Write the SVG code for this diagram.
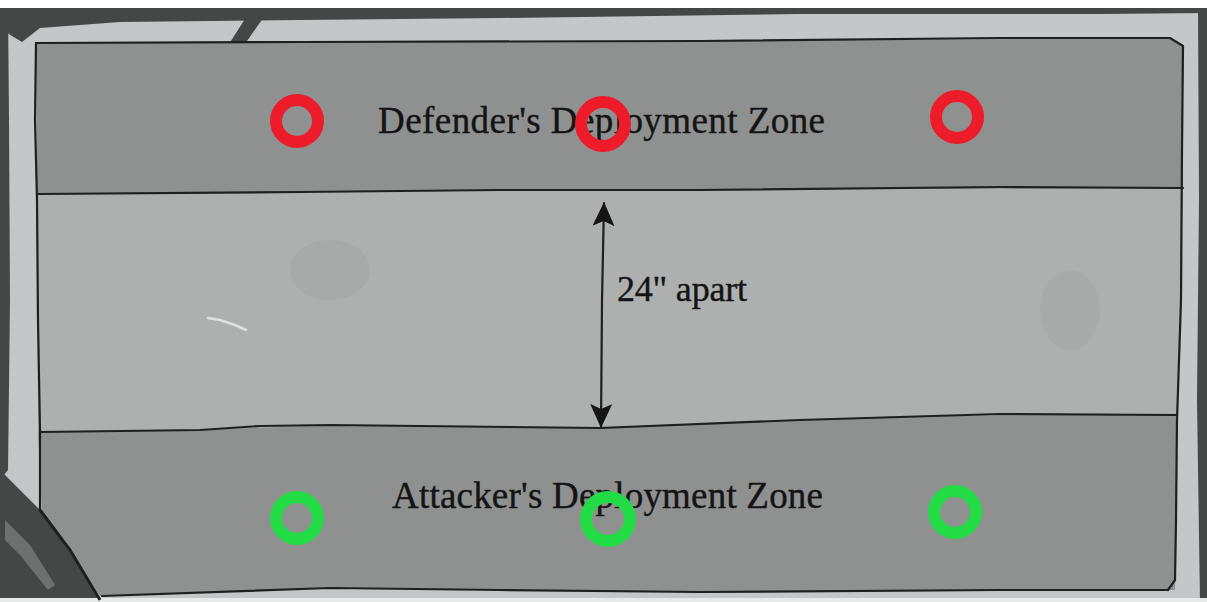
<svg xmlns="http://www.w3.org/2000/svg" width="1207" height="602" viewBox="0 0 1207 602">
<defs>
<style>
.paper{fill:#c3c7c7}
.zone-dark{fill:#8f9191}
.zone-mid{fill:#aeb0b0}
.ink{fill:none;stroke:#1e1f1f;stroke-width:2.2;stroke-linecap:round;stroke-linejoin:round}
.label{font-family:"Liberation Serif","DejaVu Serif",serif;fill:#141414;stroke:#141414;stroke-width:0.4}
.red{fill:none;stroke:#ec1c2b;stroke-width:12}
.green{fill:none;stroke:#23dc45;stroke-width:12}
.shade{fill:#454747}
</style>
<marker id="head" viewBox="0 0 24 22" refX="23" refY="11" markerWidth="24" markerHeight="22" markerUnits="userSpaceOnUse" orient="auto-start-reverse">
<path d="M0,0 L24,11 L0,22 L5,11 Z" fill="#151515"/>
</marker>
</defs>

<g id="background">
<rect x="0" y="0" width="1207" height="602" class="paper"/>
<rect x="0" y="0" width="1207" height="8" fill="#ffffff"/>
<path class="shade" d="M0,8 L1207,8 L1207,13 L1100,14 L800,14 L500,18 L300,20 L120,22 L40,28 L22,42 L12,36 L0,28 Z"/>
<path class="shade" d="M0,8 L8,8 L9,120 L10,300 L8,470 L0,480 Z"/>
<path class="shade" d="M1198,8 L1207,8 L1207,602 L1200,602 L1197,400 L1199,200 Z"/>
<path class="shade" d="M220,58 L230,65 L266,14 L252,8 Z"/>
<path class="shade" d="M0,470 L30,500 L42,512 L70,550 L100,602 L0,602 Z"/>
<path d="M5,520 L30,545 L55,585 L48,590 L20,555 L5,540 Z" fill="#8a8c8c" opacity="0.6"/>
<rect x="0" y="598" width="1207" height="4" fill="#e8eaea"/>
</g>

<g id="defender-zone">
<path class="zone-dark" d="M36,43 L300,42 L700,41 L1170,38 L1183,45 L1183,188 L700,190 L300,192 L37,194 Z"/>
</g>

<g id="no-mans-land">
<path class="zone-mid" d="M37,194 L300,192 L700,190 L1183,188 L1177,415 L900,416 L600,428 L330,425 L200,430 L38,432 Z"/>
<ellipse cx="330" cy="270" rx="40" ry="30" fill="#a2a4a4" opacity="0.5"/>
<ellipse cx="1070" cy="310" rx="30" ry="40" fill="#a2a4a4" opacity="0.4"/>
<path d="M208,318 L220,320 L235,325 L246,330" fill="none" stroke="#dfe1e1" stroke-width="2.5" stroke-linecap="round"/>
</g>

<g id="attacker-zone">
<path class="zone-dark" d="M38,432 L200,430 L330,425 L600,428 L900,416 L1177,415 L1175,590 L700,592 L330,588 L100,596 L42,512 Z"/>
</g>

<g id="borders">
<path class="ink" d="M36,43 L300,42 L700,41 L1000,38 L1170,38 L1183,46"/>
<path class="ink" d="M1183,46 L1182,150 L1181,300 L1177,420 L1176,520 L1175,580 L1168,590"/>
<path class="ink" d="M36,43 L35,120 L37,200 L38,320 L40,432 L40,510"/>
<path class="ink" d="M37,194 L300,192 L500,190 L700,190 L1000,187 L1183,188"/>
<path class="ink" d="M40,432 L200,430 L260,426 L330,425 L600,428 L800,420 L1000,414 L1177,415"/>
<path class="ink" d="M102,596 L330,588 L500,590 L700,592 L1000,590 L1168,590"/>
<path d="M40,510 L70,550 L100,600" fill="none" stroke="#1e1f1f" stroke-width="3"/>
</g>

<g id="connectors">
<path class="ink" d="M604,203 L602,300 L601,427" marker-start="url(#head)" marker-end="url(#head)"/>
</g>

<g id="label-defender">
<text class="label" x="378" y="133" font-size="37" textLength="447" lengthAdjust="spacing">Defender's Deployment Zone</text>
</g>
<g id="label-attacker">
<text class="label" x="392" y="508" font-size="37" textLength="431" lengthAdjust="spacing">Attacker's Deployment Zone</text>
</g>
<g id="label-distance">
<text class="label" x="617" y="301" font-size="36" textLength="130" lengthAdjust="spacing">24" apart</text>
</g>

<g id="defender-markers">
<circle class="red" cx="297" cy="121" r="21"/>
<circle class="red" cx="603" cy="124" r="22"/>
<circle class="red" cx="957" cy="117" r="21"/>
</g>
<g id="attacker-markers">
<circle class="green" cx="297" cy="518" r="21"/>
<circle class="green" cx="608" cy="519" r="22"/>
<circle class="green" cx="955" cy="512" r="21"/>
</g>
</svg>
